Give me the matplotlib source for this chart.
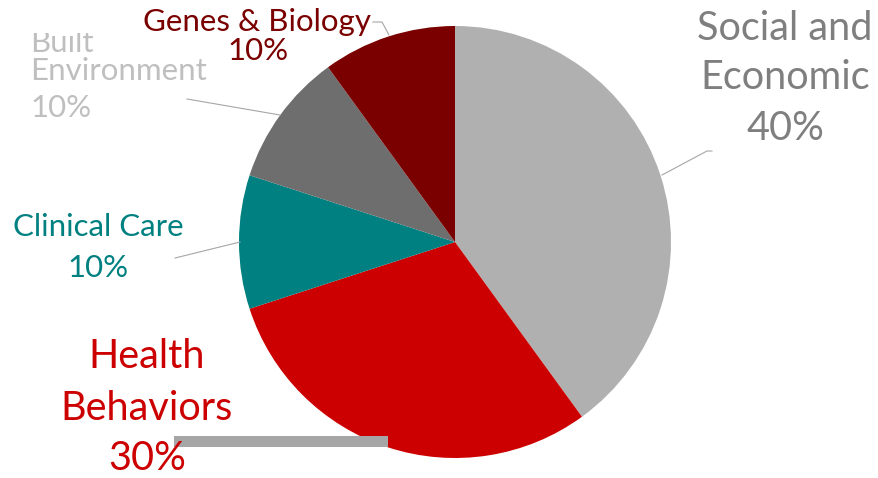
import matplotlib
matplotlib.use("Agg")
import matplotlib.pyplot as plt
from matplotlib.patches import Rectangle

# slice data, clockwise from 12 o'clock
labels = ["Social and\nEconomic", "Health\nBehaviors", "Clinical Care",
          "Built\nEnvironment", "Genes & Biology"]
values = [40, 30, 10, 10, 10]
colors = ["#b0b0b0", "#cc0000", "#008080", "#6e6e6e", "#7a0000"]
text_colors = ["#7f7f7f", "#cc0000", "#008080", "#bfbfbf", "#7a0000"]

W, H = 879, 478
plt.rcParams["font.family"] = ["Lato", "DejaVu Sans"]

fig = plt.figure(figsize=(W / 100, H / 100), dpi=100)
ax = fig.add_axes([0, 0, 1, 1])
ax.set_aspect("equal")


def Y(py):
    # pixel row -> data y
    return H - py


cx, cy, r = 455, 242, 216
ax.pie(values, colors=colors, startangle=90, counterclock=False,
       center=(cx, Y(cy)), radius=r, frame=True,
       wedgeprops=dict(linewidth=0))
ax.set_xlim(0, W)
ax.set_ylim(0, H)
ax.axis("off")

pct = [f"{v}%" for v in values]
lc = "#a6a6a6"
big, small = 28.5, 22.5

# leader lines
ax.plot([662, 707, 712], [Y(175), Y(151), Y(151)], color=lc, lw=0.8)
ax.plot([373, 382, 389], [Y(22), Y(22), Y(35)], color=lc, lw=0.8)
ax.plot([187, 280], [Y(99), Y(115)], color=lc, lw=0.8)
ax.plot([175, 240], [Y(258), Y(242)], color=lc, lw=0.8)
ax.add_patch(Rectangle((174, Y(447)), 214, 11, color=lc, lw=0, zorder=3))

# Social and Economic
ax.text(785, Y(28), "Social and", color=text_colors[0], fontsize=big,
        ha="center", va="center", zorder=5)
ax.text(785, Y(77), "Economic", color=text_colors[0], fontsize=big,
        ha="center", va="center", zorder=5)
ax.text(785, Y(128), pct[0], color=text_colors[0], fontsize=big,
        ha="center", va="center", zorder=5)

# Health Behaviors
ax.text(147, Y(357), "Health", color=text_colors[1], fontsize=big,
        ha="center", va="center", zorder=5)
ax.text(147, Y(408), "Behaviors", color=text_colors[1], fontsize=big,
        ha="center", va="center", zorder=5)
ax.text(147, Y(459), pct[1], color=text_colors[1], fontsize=big,
        ha="center", va="center", zorder=5)

# Clinical Care
ax.text(98, Y(227), labels[2], color=text_colors[2], fontsize=small,
        ha="center", va="center", zorder=5)
ax.text(98, Y(268), pct[2], color=text_colors[2], fontsize=small,
        ha="center", va="center", zorder=5)

# Built Environment (top of "Built" is cut off in the original)
ax.text(30, Y(43), "Built", color=text_colors[3], fontsize=small,
        ha="left", va="center", zorder=5)
ax.text(30, Y(71), "Environment", color=text_colors[3], fontsize=small,
        ha="left", va="center", zorder=5)
ax.text(30, Y(108), pct[3], color=text_colors[3], fontsize=small,
        ha="left", va="center", zorder=5)
ax.add_patch(Rectangle((0, Y(33)), 200, 33, color="white", lw=0, zorder=6))

# Genes & Biology
ax.text(257, Y(22), labels[4], color=text_colors[4], fontsize=small,
        ha="center", va="center", zorder=7)
ax.text(258, Y(51), pct[4], color=text_colors[4], fontsize=small,
        ha="center", va="center", zorder=7)

fig.savefig("out.png", dpi=100)
